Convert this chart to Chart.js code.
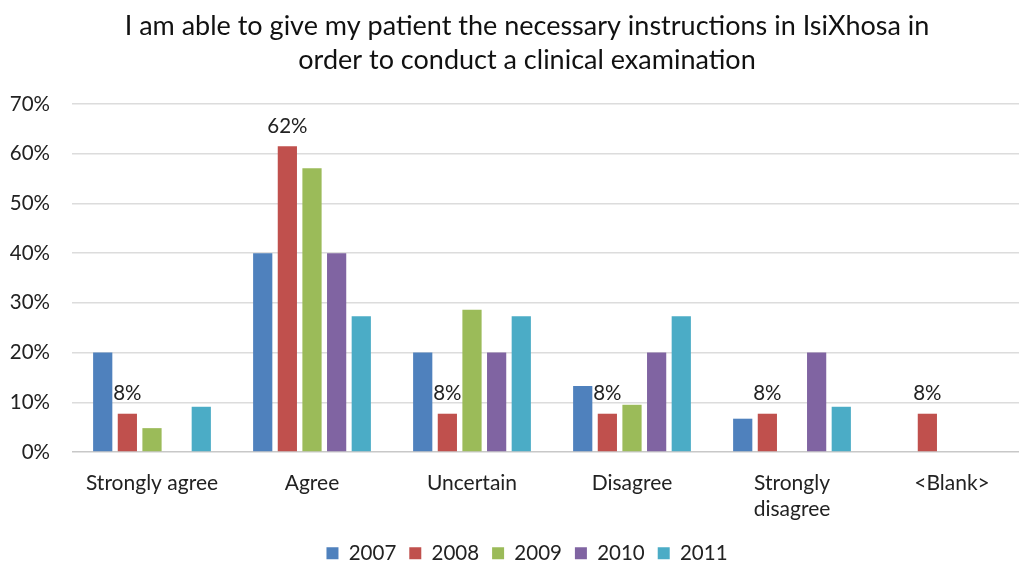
<!DOCTYPE html>
<html>
<head>
<meta charset="utf-8">
<title>IsiXhosa instructions survey</title>
<script src="https://cdn.jsdelivr.net/npm/chart.js@4.4.1/dist/chart.umd.min.js"></script>
<style>
  html, body { margin: 0; padding: 0; background: #fff; overflow: hidden; }
  #wrap { width: 1019px; height: 565px; overflow: hidden; }
  #chart { display: block; }
</style>
</head>
<body>
<div id="wrap">
  <canvas id="chart" width="1054" height="565" style="width:1054px;height:565px"></canvas>
</div>
<script>
var categories = ['Strongly agree', 'Agree', 'Uncertain', 'Disagree', ['Strongly', 'disagree'], '<Blank>'];
var years = ['2007', '2008', '2009', '2010', '2011'];

// percent of respondents per answer, one array per year
var y2007 = [20, 40, 20, 13.3, 6.7, 0];
var y2008 = [7.7, 61.5, 7.7, 7.7, 7.7, 7.7];
var y2009 = [4.8, 57.1, 28.6, 9.5, 0, 0];
var y2010 = [0, 40, 20, 20, 20, 0];
var y2011 = [9.1, 27.3, 27.3, 27.3, 9.1, 0];

var yTicks = [0, 10, 20, 30, 40, 50, 60, 70];

var colors = ['#4f81bd', '#c0504d', '#9bbb59', '#8064a2', '#4bacc6'];
var series = [y2007, y2008, y2009, y2010, y2011];
var FONT = 'Lato, "Open Sans", sans-serif';

// only the 2008 bars carry a value label
var labelledSeries = 1;

var valueLabels = {
  id: 'valueLabels',
  afterDatasetsDraw: function(chart) {
    var ctx = chart.ctx;
    var meta = chart.getDatasetMeta(labelledSeries);
    var data = chart.data.datasets[labelledSeries].data;
    ctx.save();
    ctx.font = '20.5px ' + FONT;
    ctx.fillStyle = '#222';
    ctx.textAlign = 'center';
    ctx.textBaseline = 'middle';
    meta.data.forEach(function(bar, i) {
      if (!data[i]) return;
      ctx.fillText(Math.round(data[i]) + '%', bar.x, bar.y - 20);
    });
    ctx.restore();
  }
};

var datasets = years.map(function(year, i) {
  return {
    label: year,
    data: series[i],
    backgroundColor: colors[i],
    borderWidth: 0,
    categoryPercentage: 0.77,
    barPercentage: 0.78
  };
});

new Chart(document.getElementById('chart'), {
  type: 'bar',
  data: { labels: categories, datasets: datasets },
  plugins: [valueLabels],
  options: {
    responsive: false,
    animation: false,
    layout: { padding: 0 },
    plugins: {
      tooltip: { enabled: false },
      title: {
        display: true,
        text: ['I am able to give my patient the necessary instructions in IsiXhosa in',
               'order to conduct a clinical examination'],
        color: '#111',
        font: { family: FONT, size: 27, weight: 'normal', lineHeight: 1.26 },
        padding: { top: 9, bottom: 27 }
      },
      legend: {
        position: 'bottom',
        maxHeight: 35,
        labels: {
          color: '#222',
          font: { family: FONT, size: 20.5 },
          boxWidth: 12,
          boxHeight: 12,
          padding: 13
        }
      }
    },
    scales: {
      x: {
        afterFit: function(scale) { scale.height = 78; },
        grid: { display: false },
        border: { display: false },
        ticks: {
          color: '#222',
          font: { family: FONT, size: 21, lineHeight: 1.25 },
          padding: 10,
          maxRotation: 0,
          autoSkip: false
        }
      },
      y: {
        min: 0,
        max: 70,
        afterFit: function(scale) { scale.width = 72; },
        afterBuildTicks: function(scale) {
          scale.ticks = yTicks.map(function(v) { return { value: v }; });
        },
        grid: {
          color: function(c) { return c.tick && c.tick.value === 0 ? '#c8c8c8' : '#dcdcdc'; },
          lineWidth: 1.5,
          drawTicks: false
        },
        border: { display: false },
        ticks: {
          color: '#222',
          font: { family: FONT, size: 20.5 },
          padding: 22,
          callback: function(v) { return v + '%'; }
        }
      },
      // empty strip on the right so the plot stops short of the canvas edge
      yRight: {
        position: 'right',
        afterFit: function(scale) { scale.width = 22; },
        grid: { display: false },
        border: { display: false },
        ticks: { display: false }
      }
    }
  }
});
</script>
</body>
</html>
